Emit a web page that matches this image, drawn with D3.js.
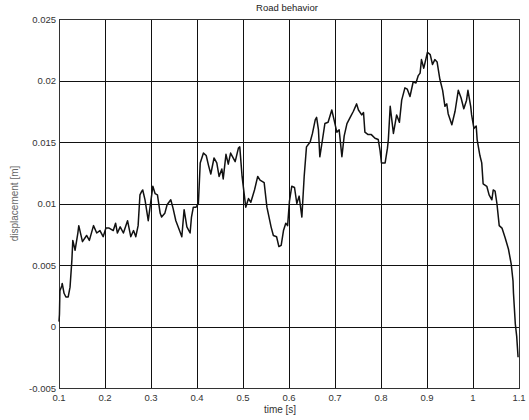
<!DOCTYPE html>
<html>
<head>
<meta charset="utf-8">
<script src="https://cdn.jsdelivr.net/npm/d3@7"></script>
<style>
  body { margin: 0; background: #fff; }
  svg { display: block; font-family: "Liberation Sans", Arial, sans-serif; }
</style>
</head>
<body>
<div id="chart"></div>
<script>
// data
const time = [0.100, 0.101, 0.102, 0.106, 0.107, 0.111, 0.115, 0.120, 0.124, 0.128, 0.130, 0.135, 0.141, 0.143,
  0.151, 0.160, 0.166, 0.175, 0.182, 0.189, 0.196, 0.202, 0.209, 0.218, 0.223, 0.227, 0.233, 0.240, 0.249,
  0.256, 0.262, 0.267, 0.272, 0.276, 0.280, 0.282, 0.287, 0.294, 0.304, 0.309, 0.314, 0.320, 0.323, 0.330,
  0.335, 0.343, 0.348, 0.354, 0.362, 0.367, 0.372, 0.378, 0.385, 0.388, 0.392, 0.398, 0.403, 0.407, 0.414,
  0.420, 0.425, 0.430, 0.437, 0.443, 0.448, 0.454, 0.457, 0.463, 0.468, 0.473, 0.483, 0.490, 0.493, 0.498,
  0.506, 0.512, 0.517, 0.525, 0.532, 0.537, 0.546, 0.552, 0.561, 0.566, 0.573, 0.578, 0.583, 0.588, 0.593,
  0.597, 0.601, 0.606, 0.612, 0.617, 0.622, 0.628, 0.633, 0.638, 0.646, 0.651, 0.657, 0.660, 0.664, 0.667,
  0.672, 0.678, 0.685, 0.693, 0.698, 0.704, 0.709, 0.715, 0.720, 0.726, 0.733, 0.740, 0.747, 0.751, 0.758,
  0.762, 0.765, 0.772, 0.779, 0.787, 0.794, 0.798, 0.801, 0.809, 0.814, 0.816, 0.820, 0.827, 0.834, 0.840,
  0.845, 0.852, 0.857, 0.863, 0.870, 0.876, 0.881, 0.885, 0.888, 0.893, 0.901, 0.907, 0.912, 0.917, 0.922,
  0.928, 0.934, 0.939, 0.943, 0.946, 0.954, 0.961, 0.968, 0.974, 0.980, 0.986, 0.989, 0.995, 0.997, 1.002,
  1.007, 1.009, 1.015, 1.019, 1.022, 1.030, 1.035, 1.041, 1.044, 1.048, 1.052, 1.057, 1.063, 1.070, 1.077,
  1.083, 1.087, 1.088, 1.092, 1.095, 1.098];
const displacement = [0.0004, 0.0010, 0.0029, 0.0033, 0.0035, 0.0027, 0.0024, 0.0024, 0.0032, 0.0054, 0.0070, 0.0062, 0.0076, 0.0082,
  0.0069, 0.0074, 0.0070, 0.0082, 0.0076, 0.0078, 0.0073, 0.0080, 0.0080, 0.0078, 0.0084, 0.0076, 0.0081, 0.0076, 0.0086,
  0.0073, 0.0078, 0.0073, 0.0082, 0.0107, 0.0110, 0.0111, 0.0103, 0.0086, 0.0114, 0.0108, 0.0107, 0.0092, 0.0089, 0.0092,
  0.0099, 0.0103, 0.0096, 0.0086, 0.0078, 0.0073, 0.0095, 0.0081, 0.0076, 0.0089, 0.0097, 0.0097, 0.0100, 0.0133, 0.0141,
  0.0139, 0.0131, 0.0124, 0.0137, 0.0133, 0.0122, 0.0128, 0.0120, 0.0140, 0.0132, 0.0141, 0.0134, 0.0145, 0.0146, 0.0122,
  0.0097, 0.0104, 0.0101, 0.0111, 0.0122, 0.0119, 0.0117, 0.0097, 0.0081, 0.0074, 0.0073, 0.0065, 0.0066, 0.0078, 0.0084,
  0.0082, 0.0102, 0.0114, 0.0113, 0.0100, 0.0106, 0.0089, 0.0122, 0.0146, 0.0150, 0.0157, 0.0168, 0.0170, 0.0160, 0.0138,
  0.0150, 0.0165, 0.0166, 0.0176, 0.0168, 0.0158, 0.0160, 0.0138, 0.0155, 0.0165, 0.0170, 0.0175, 0.0181, 0.0176, 0.0172,
  0.0174, 0.0158, 0.0156, 0.0156, 0.0153, 0.0152, 0.0143, 0.0133, 0.0133, 0.0145, 0.0152, 0.0179, 0.0157, 0.0172, 0.0166,
  0.0184, 0.0194, 0.0193, 0.0187, 0.0199, 0.0198, 0.0204, 0.0206, 0.0217, 0.0210, 0.0223, 0.0221, 0.0213, 0.0217, 0.0215,
  0.0201, 0.0192, 0.0179, 0.0181, 0.0173, 0.0164, 0.0175, 0.0192, 0.0186, 0.0177, 0.0184, 0.0192, 0.0179, 0.0172, 0.0161,
  0.0163, 0.0152, 0.0139, 0.0133, 0.0116, 0.0114, 0.0107, 0.0103, 0.0111, 0.0110, 0.0100, 0.0082, 0.0080, 0.0072, 0.0063,
  0.0051, 0.0037, 0.0027, 0.0002, -0.0008, -0.0025];

const xTicks = [0.1, 0.2, 0.3, 0.4, 0.5, 0.6, 0.7, 0.8, 0.9, 1, 1.1];
const xTickLabels = ["0.1", "0.2", "0.3", "0.4", "0.5", "0.6", "0.7", "0.8", "0.9", "1", "1.1"];
const yTicks = [-0.005, 0, 0.005, 0.01, 0.015, 0.02, 0.025];
const yTickLabels = ["-0.005", "0", "0.005", "0.01", "0.015", "0.02", "0.025"];

const width = 529;
const height = 420;
const margin = { top: 19, left: 59, bottom: 32, right: 10 };

const svg = d3.select("#chart").append("svg")
    .attr("width", width)
    .attr("height", height);

const x = d3.scaleLinear().domain([0.1, 1.1]).range([margin.left, width - margin.right]);
const y = d3.scaleLinear().domain([-0.005, 0.025]).range([height - margin.bottom, margin.top]);

// grid
svg.append("g")
    .selectAll("line")
    .data(xTicks)
    .join("line")
    .attr("x1", d => Math.round(x(d)) + 0.5)
    .attr("x2", d => Math.round(x(d)) + 0.5)
    .attr("y1", y(0.025))
    .attr("y2", y(-0.005))
    .attr("stroke", "#111")
    .attr("stroke-width", 1);

svg.append("g")
    .selectAll("line")
    .data(yTicks)
    .join("line")
    .attr("x1", x(0.1))
    .attr("x2", x(1.1))
    .attr("y1", d => Math.round(y(d)) + 0.5)
    .attr("y2", d => Math.round(y(d)) + 0.5)
    .attr("stroke", "#111")
    .attr("stroke-width", 1);

// frame
svg.append("rect")
    .attr("x", Math.round(x(0.1)) + 0.5)
    .attr("y", Math.round(y(0.025)) + 0.5)
    .attr("width", Math.round(x(1.1)) - Math.round(x(0.1)))
    .attr("height", Math.round(y(-0.005)) - Math.round(y(0.025)))
    .attr("fill", "none")
    .attr("stroke", "#333");

// tick labels
svg.append("g")
    .selectAll("text")
    .data(xTicks)
    .join("text")
    .attr("x", d => x(d))
    .attr("y", y(-0.005) + 13)
    .attr("text-anchor", "middle")
    .attr("font-size", 9.5)
    .attr("fill", "#333")
    .text((d, i) => xTickLabels[i]);

svg.append("g")
    .selectAll("text")
    .data(yTicks)
    .join("text")
    .attr("x", x(0.1) - 3)
    .attr("y", d => y(d) + 3.5)
    .attr("text-anchor", "end")
    .attr("font-size", 9.5)
    .attr("fill", "#333")
    .text((d, i) => yTickLabels[i]);

// title and axis labels
svg.append("text")
    .attr("x", 287)
    .attr("y", 11)
    .attr("text-anchor", "middle")
    .attr("font-size", 9.5)
    .attr("fill", "#222")
    .text("Road behavior");

svg.append("text")
    .attr("x", 280)
    .attr("y", 413)
    .attr("text-anchor", "middle")
    .attr("font-size", 10)
    .attr("fill", "#333")
    .text("time [s]");

svg.append("text")
    .attr("transform", `translate(18, ${(y(0.025) + y(-0.005)) / 2}) rotate(-90)`)
    .attr("text-anchor", "middle")
    .attr("font-size", 10)
    .attr("fill", "#666")
    .text("displacement [m]");

// curve
const line = d3.line()
    .x((d, i) => x(time[i]))
    .y(d => y(d));

svg.append("path")
    .attr("d", line(displacement))
    .attr("fill", "none")
    .attr("stroke", "#111")
    .attr("stroke-width", 1.5)
    .attr("stroke-linejoin", "round");
</script>
</body>
</html>
